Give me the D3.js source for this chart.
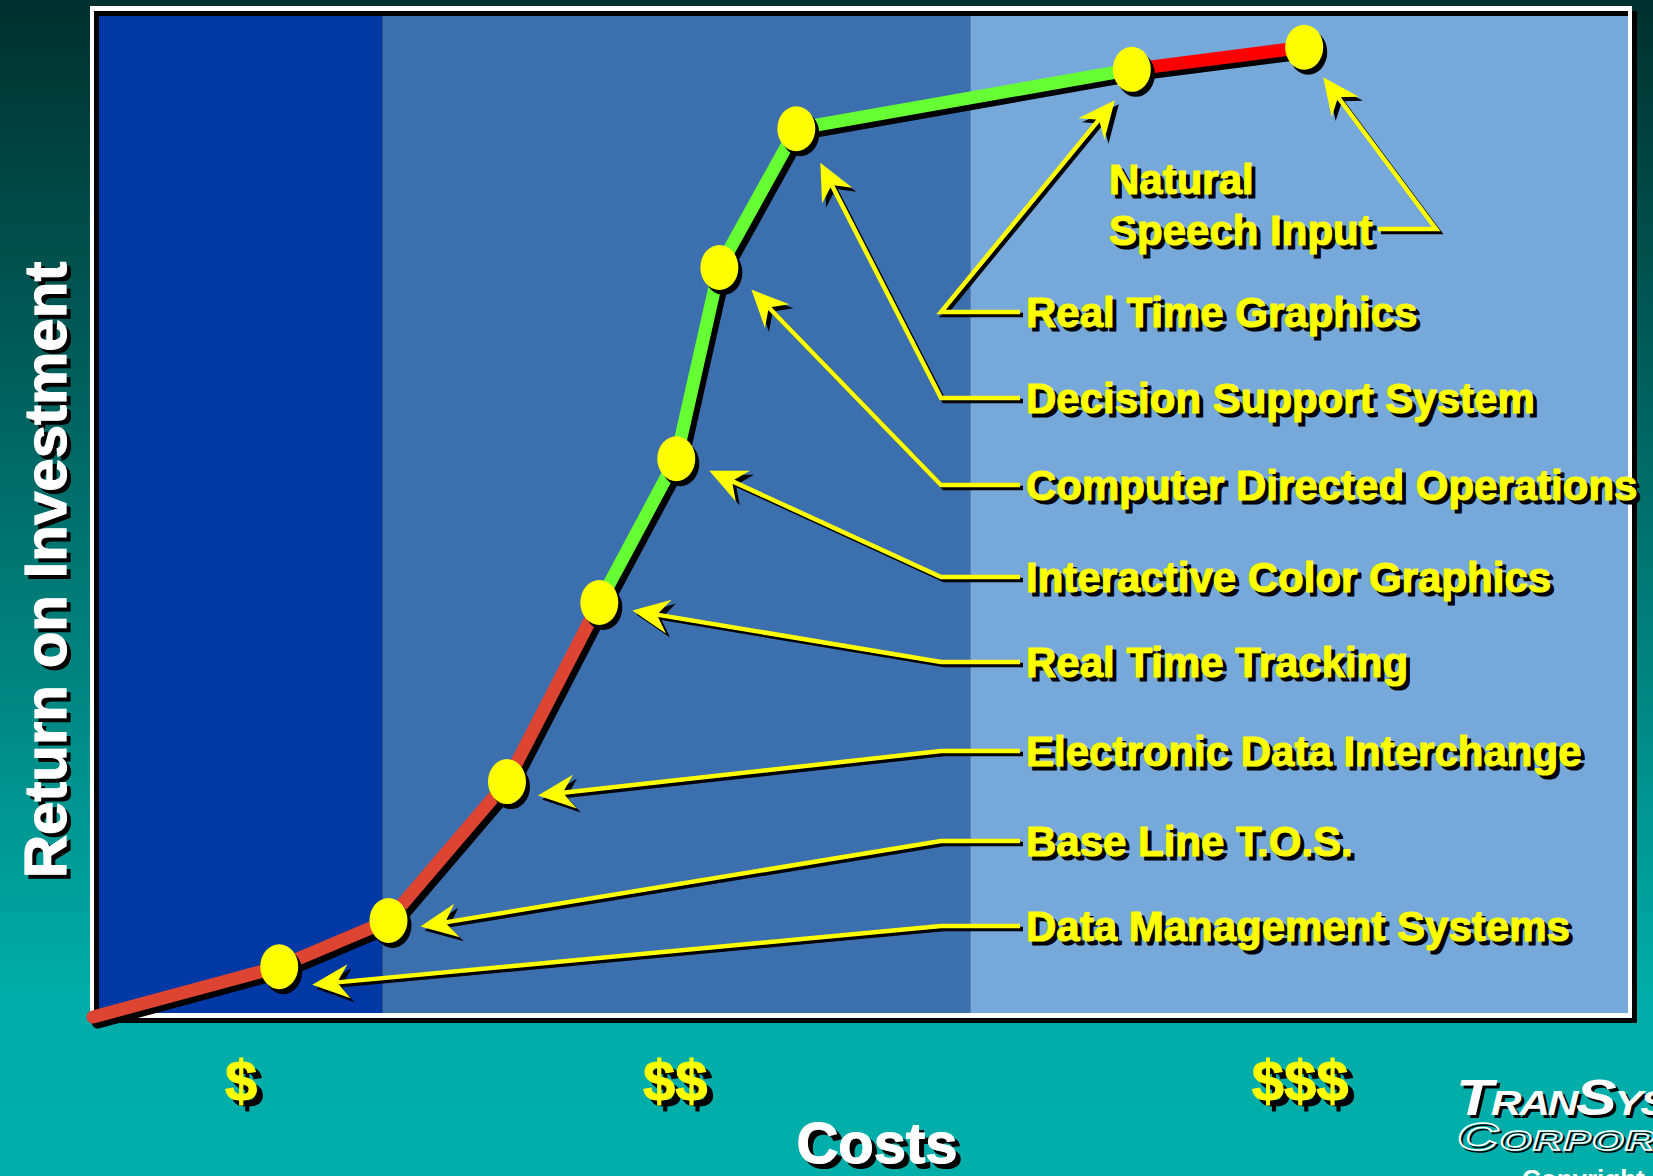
<!DOCTYPE html>
<html>
<head>
<meta charset="utf-8">
<script src="https://cdn.jsdelivr.net/npm/d3@7"></script>
<style>
  html, body { margin: 0; padding: 0; overflow: hidden; background: #00ADA8; }
  svg { display: block; }
  text { font-family: "Liberation Sans", Arial, Helvetica, sans-serif; font-weight: bold; }
</style>
</head>
<body>
<div class="main_area"></div>
<script>
// systems placed along the cost / return curve (index 0 of costs/returns is the origin)
const systems = ["Data Management Systems", "Base Line T.O.S.", "Electronic Data Interchange",
  "Real Time Tracking", "Interactive Color Graphics", "Computer Directed Operations",
  "Decision Support System", "Real Time Graphics", "Natural Speech Input"];
const costs   = [0, 12.1, 19.2, 26.9, 32.9, 37.9, 40.7, 45.7, 67.5, 78.7];
const returns = [0, 5.0, 9.6, 23.4, 41.2, 55.5, 74.5, 88.3, 94.2, 96.4];
// phase of each segment between consecutive points
const segmentPhase = ["early", "early", "early", "early", "growth", "growth", "growth", "growth", "late"];

// cost zones (background bands) and cost axis labels
const zoneBreaks = [0, 18.8, 57.0, 100];
const costTickValues = [9.6, 37.8, 78.4];
const costTickLabels = ["$", "$$", "$$$"];

const W = 1653, H = 1176;

const svg = d3.select(".main_area")
  .append("svg")
  .attr("width", W)
  .attr("height", H);

const defs = svg.append("defs");
const grad = defs.append("linearGradient")
  .attr("id", "bg").attr("x1", 0).attr("y1", 0).attr("x2", 0).attr("y2", 1);
grad.append("stop").attr("offset", "0%").attr("stop-color", "#00302D");
grad.append("stop").attr("offset", "85%").attr("stop-color", "#00ADA8");
grad.append("stop").attr("offset", "100%").attr("stop-color", "#00AEA9");

svg.append("rect").attr("width", W).attr("height", H).attr("fill", "url(#bg)");

const x = d3.scaleLinear().domain([0, 100]).range([93, 1632]);
const y = d3.scaleLinear().domain([0, 100]).range([1017, 11]);

// frame: white bevel with black shadow
const frame = {x0: 90, y0: 6, x1: 1632, y1: 1018};
svg.append("rect")
  .attr("x", frame.x0 + 5).attr("y", frame.y0 + 5)
  .attr("width", frame.x1 - frame.x0).attr("height", frame.y1 - frame.y0)
  .attr("fill", "#000");
svg.append("rect")
  .attr("x", frame.x0).attr("y", frame.y0)
  .attr("width", frame.x1 - frame.x0).attr("height", frame.y1 - frame.y0)
  .attr("fill", "#fff");
svg.append("rect")
  .attr("x", frame.x0 + 4).attr("y", frame.y0 + 5)
  .attr("width", frame.x1 - frame.x0 - 8).attr("height", frame.y1 - frame.y0 - 10)
  .attr("fill", "#000");

const zoneColors = ["#0039A6", "#3C6FAD", "#77A8DA"];
const innerLeft = frame.x0 + 9, innerRight = frame.x1 - 4;
const innerTop = frame.y0 + 10, innerBottom = frame.y1 - 5;

svg.append("g")
  .selectAll("rect")
  .data(d3.pairs(zoneBreaks))
  .enter().append("rect")
    .attr("x", d => Math.max(innerLeft, x(d[0])))
    .attr("y", innerTop)
    .attr("width", d => Math.min(innerRight, x(d[1])) - Math.max(innerLeft, x(d[0])))
    .attr("height", innerBottom - innerTop)
    .attr("fill", (d, i) => zoneColors[i]);

// curve
const pts = costs.map((c, i) => [x(c), y(returns[i])]);
const phaseColor = {early: "#DE4432", growth: "#66FF33", late: "#FF0000"};

svg.append("path")
  .attr("d", d3.line()(pts.map(p => [p[0] + 5, p[1] + 5])))
  .attr("fill", "none")
  .attr("stroke", "#000")
  .attr("stroke-width", 13)
  .attr("stroke-linejoin", "round")
  .attr("stroke-linecap", "round");

svg.append("g")
  .selectAll("line")
  .data(d3.pairs(pts))
  .enter().append("line")
    .attr("x1", d => d[0][0]).attr("y1", d => d[0][1])
    .attr("x2", d => d[1][0]).attr("y2", d => d[1][1])
    .attr("stroke", (d, i) => phaseColor[segmentPhase[i]])
    .attr("stroke-width", 13)
    .attr("stroke-linecap", "round");

// leaders: label rows and arrow tip offsets from each dot
const labelRowY = [926, 841, 751, 662, 577, 485, 398, 312];
const tipOffset = [[33, 18], [32, 6], [31, 14], [33, 8], [33, 12], [32, 22], [24, 34], [-17, 31], [19, 30]];
const elbowX = 941, labelX = 1026;

function arrowPoints(tip, from) {
  const dx = tip[0] - from[0], dy = tip[1] - from[1];
  const len = Math.hypot(dx, dy);
  const ux = dx / len, uy = dy / len, nx = -uy, ny = ux;
  const L = 37, Wd = 17, N = 12;
  return {
    head: [tip,
      [tip[0] - L * ux + Wd * nx, tip[1] - L * uy + Wd * ny],
      [tip[0] - (L - N) * ux, tip[1] - (L - N) * uy],
      [tip[0] - L * ux - Wd * nx, tip[1] - L * uy - Wd * ny]],
    base: [tip[0] - (L - N) * ux, tip[1] - (L - N) * uy]
  };
}

const leaders = systems.map((name, i) => {
  const dot = pts[i + 1];
  const tip = [dot[0] + tipOffset[i][0], dot[1] + tipOffset[i][1]];
  let route;
  if (i < labelRowY.length) {
    route = [[labelX - 6, labelRowY[i]], [elbowX, labelRowY[i]]];
  } else {
    route = [[1378, 229], [1436, 229]];
  }
  const a = arrowPoints(tip, route[route.length - 1]);
  return {path: route.concat([a.base]), head: a.head};
});

const leaderG = svg.append("g");
[["#000", 3], ["#FFFF00", 0]].forEach(([col, off]) => {
  leaderG.selectAll(null)
    .data(leaders)
    .enter().append("path")
      .attr("d", d => d3.line()(d.path.map(p => [p[0] + off, p[1] + off])))
      .attr("fill", "none")
      .attr("stroke", col)
      .attr("stroke-width", 4.5);
  leaderG.selectAll(null)
    .data(leaders)
    .enter().append("polygon")
      .attr("points", d => d.head.map(p => [p[0] + off + (off ? 1 : 0), p[1] + off + (off ? 1 : 0)].join(",")).join(" "))
      .attr("fill", col);
});

// dots
const dotG = svg.append("g");
dotG.selectAll(".dot-shadow")
  .data(pts.slice(1))
  .enter().append("ellipse")
    .attr("class", "dot-shadow")
    .attr("cx", d => d[0] + 4).attr("cy", d => d[1] + 5)
    .attr("rx", 19).attr("ry", 22.5)
    .attr("fill", "#000");
dotG.selectAll(".dot")
  .data(pts.slice(1))
  .enter().append("ellipse")
    .attr("class", "dot")
    .attr("cx", d => d[0]).attr("cy", d => d[1])
    .attr("rx", 19).attr("ry", 22.5)
    .attr("fill", "#FFFF00");

// heavy text with a hard black drop shadow drawn underneath
function shadowText(g, tx, ty, str, size, fill, off, anchor) {
  [["#000", off], [fill, 0]].forEach(([col, o]) => {
    g.append("text")
      .attr("x", tx + o).attr("y", ty + o)
      .attr("font-size", size)
      .attr("text-anchor", anchor || "start")
      .attr("fill", col)
      .attr("stroke", col)
      .attr("stroke-width", 1.2)
      .attr("stroke-linejoin", "round")
      .text(str);
  });
}

const labelG = svg.append("g");
systems.slice(0, labelRowY.length).forEach((name, i) => {
  shadowText(labelG, labelX, labelRowY[i] + 15, name, 42, "#FFFF00", 4);
});
shadowText(labelG, 1109, 194, "Natural", 42, "#FFFF00", 4);
shadowText(labelG, 1109, 245, "Speech Input", 42, "#FFFF00", 4);

// cost axis (shadow copy, then yellow)
[["#000", 6], ["#FFFF00", 0]].forEach(([col, off]) => {
  const ax = svg.append("g")
    .attr("transform", "translate(" + [off, 1101 + off] + ")")
    .call(d3.axisBottom(x)
      .tickValues(costTickValues)
      .tickFormat((d, i) => costTickLabels[i])
      .tickSize(0)
      .tickPadding(0));
  ax.select(".domain").remove();
  ax.selectAll("text")
    .attr("dy", 0)
    .attr("y", 0)
    .attr("font-size", 58)
    .attr("font-family", "Liberation Sans, Arial, sans-serif")
    .attr("font-weight", "bold")
    .attr("fill", col)
    .attr("stroke", col)
    .attr("stroke-width", 1);
});

shadowText(svg.append("g"), 877, 1163, "Costs", 58, "#fff", 5, "middle");

// y axis title
[["#000", 4], ["#fff", 0]].forEach(([col, off]) => {
  svg.append("text")
    .attr("transform", "translate(" + [66 + off, 570 + off] + ") rotate(-90)")
    .attr("text-anchor", "middle")
    .attr("font-size", 60)
    .attr("fill", col)
    .attr("stroke", col)
    .attr("stroke-width", 1.2)
    .text("Return on Investment");
});

// logo
const logo = svg.append("g");
[["#000", 3], ["#fff", 0]].forEach(([col, off]) => {
  const t = logo.append("text")
    .attr("transform", "translate(" + [1456 + off, 1115 + off] + ") scale(1.22,1)")
    .attr("font-style", "italic")
    .attr("letter-spacing", -2)
    .attr("fill", col);
  t.append("tspan").attr("font-size", 50).text("T");
  t.append("tspan").attr("font-size", 35).text("RAN");
  t.append("tspan").attr("font-size", 50).text("S");
  t.append("tspan").attr("font-size", 35).text("YS");
});
[["#000", 2], ["#fff", 0]].forEach(([col, off]) => {
  const t = logo.append("text")
    .attr("transform", "translate(" + [1457 + off, 1150 + off] + ") scale(1.5,1)")
    .attr("font-style", "italic")
    .attr("font-weight", "normal")
    .attr("letter-spacing", 1)
    .attr("fill", "none")
    .attr("stroke", col)
    .attr("stroke-width", 1.5);
  t.append("tspan").attr("font-size", 38).text("C");
  t.append("tspan").attr("font-size", 27).text("ORPORATION");
});
logo.append("text")
  .attr("x", 1522).attr("y", 1188)
  .attr("font-size", 26)
  .attr("fill", "#fff")
  .text("Copyright");
</script>
</body>
</html>
